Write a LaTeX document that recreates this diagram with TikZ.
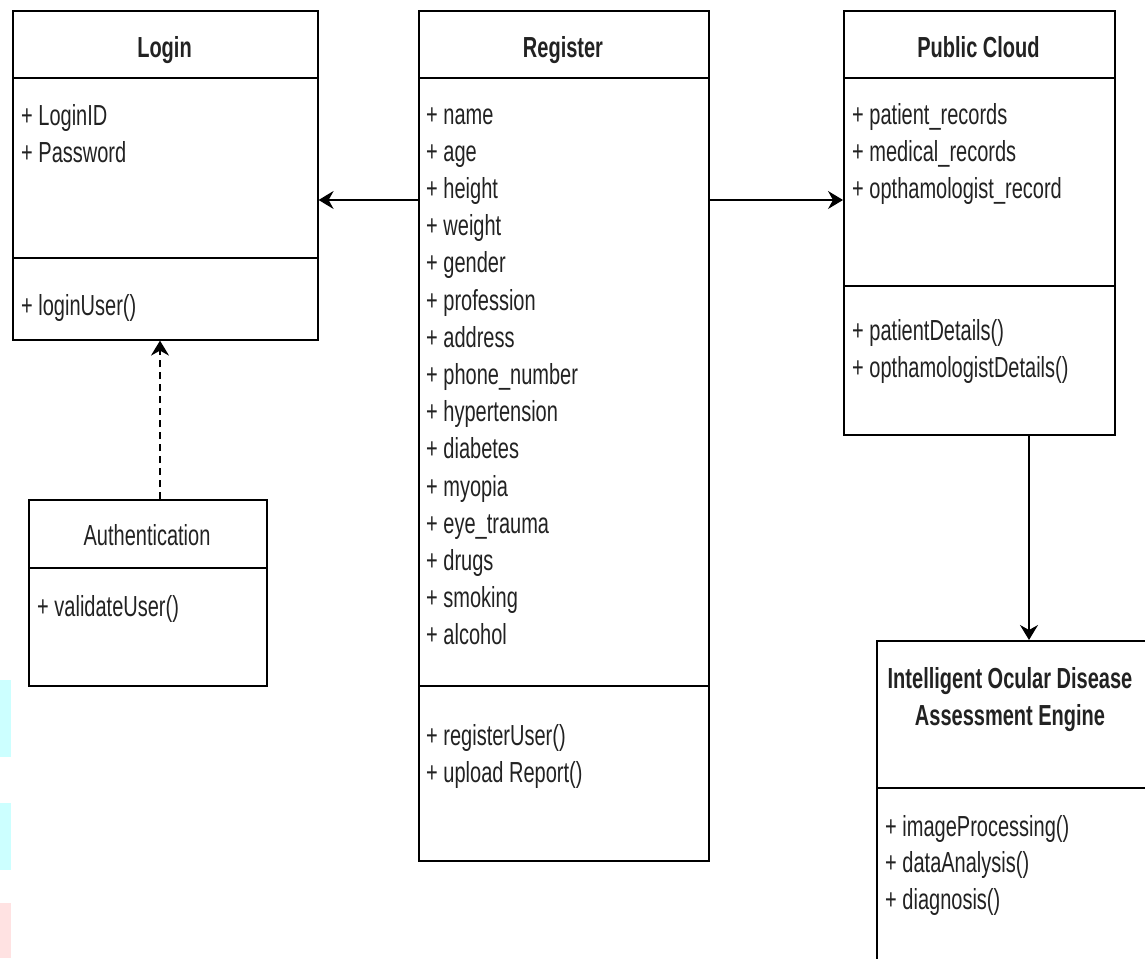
\documentclass[tikz,border=0pt]{standalone}
\usepackage{fontspec}
\setmainfont{Liberation Sans}[FakeStretch=0.69]
\usetikzlibrary{arrows.meta}
\definecolor{wmcyan}{HTML}{CCFFFF}
\definecolor{wmpink}{HTML}{FFE2E2}
\definecolor{txt}{HTML}{222222}
\tikzset{
  box/.style={draw=black, line width=1.6pt, fill=white, inner sep=0pt, anchor=north west},
  sep/.style={draw=black, line width=1.6pt},
  attr/.style={anchor=base west, inner sep=0pt, text=txt, font=\fontsize{29}{37}\selectfont},
  ttl/.style={anchor=base, inner sep=0pt, text=txt, font=\fontsize{29}{37}\selectfont\bfseries},
  conn/.style={draw=black, line width=1.6pt, -{Stealth[length=15pt,width=18pt,inset=5pt]}},
  dconn/.style={conn, dash pattern=on 7pt off 5pt}
}
\begin{document}
\begin{tikzpicture}[x=1pt,y=-1pt]
\useasboundingbox (0,0) rectangle (1145,958);
% watermark patches
\fill[wmcyan] (0,680) rectangle (11,757);
\fill[wmcyan] (0,803) rectangle (11,870);
\fill[wmpink] (0,903) rectangle (11,958);

% Login
\node[box, minimum width=305pt, minimum height=329pt] (login) at (12,10) {};
\draw[sep] (12,78) -- (317,78);
\draw[sep] (12,258) -- (317,258);
\node[ttl] (loginT) at (164.5,57) {Login};
\node[attr] (l1) at (21,125) {+ LoginID};
\node[attr] (l2) at (21,162) {+ Password};
\node[attr] (l3) at (21,315) {+ loginUser()};

% Register
\node[box, minimum width=290pt, minimum height=850pt] (reg) at (418,10) {};
\draw[sep] (418,78) -- (708,78);
\draw[sep] (418,686) -- (708,686);
\node[ttl] (regT) at (563,57) {Register};
\foreach \t [count=\i from 0] in {name,age,height,weight,gender,profession,address,phone\_number,hypertension,diabetes,myopia,eye\_trauma,drugs,smoking,alcohol}
  \node[attr] (r\i) at (426,124+37.2*\i) {+ \t};
\node[attr] (rm1) at (426,745) {+ registerUser()};
\node[attr] (rm2) at (426,782) {+ upload Report()};

% Public Cloud
\node[box, minimum width=271pt, minimum height=424pt] (cloud) at (843,10) {};
\draw[sep] (843,78) -- (1114,78);
\draw[sep] (843,286) -- (1114,286);
\node[ttl] (cloudT) at (978.5,57) {Public Cloud};
\node[attr] (c1) at (852,124) {+ patient\_records};
\node[attr] (c2) at (852,161) {+ medical\_records};
\node[attr] (c3) at (852,198) {+ opthamologist\_record};
\node[attr] (c4) at (852,340) {+ patientDetails()};
\node[attr] (c5) at (852,377) {+ opthamologistDetails()};

% Authentication
\node[box, minimum width=238pt, minimum height=186pt] (auth) at (28,499) {};
\draw[sep] (28,568) -- (266,568);
\node[attr, anchor=base] (authT) at (147,545) {Authentication};
\node[attr] (a1) at (37,616) {+ validateUser()};

% Intelligent engine
\node[box, minimum width=272pt, minimum height=330pt] (eng) at (876,640) {};
\draw[sep] (876,788) -- (1148,788);
\node[ttl] (engT1) at (1010,688) {Intelligent Ocular Disease};
\node[ttl] (engT2) at (1010,725) {Assessment Engine};
\node[attr] (e1) at (885,836) {+ imageProcessing()};
\node[attr] (e2) at (885,872) {+ dataAnalysis()};
\node[attr] (e3) at (885,909) {+ diagnosis()};

% connectors
\draw[conn] (reg.west |- 0,200) -- (login.east |- 0,200);
\draw[conn] (reg.east |- 0,200) -- (cloud.west |- 0,200);
\draw[conn] (cloud.south -| 1029,0) -- (eng.north -| 1029,0);
\draw[dconn] (auth.north -| 160,0) -- (login.south -| 160,0);
\end{tikzpicture}
\end{document}
